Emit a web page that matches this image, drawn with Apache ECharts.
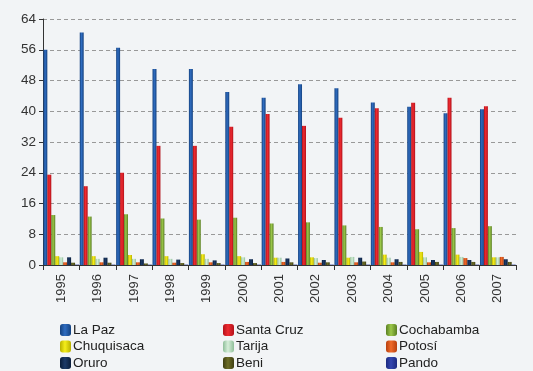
<!DOCTYPE html>
<html>
<head>
<meta charset="utf-8">
<script src="https://cdn.jsdelivr.net/npm/echarts@6/dist/echarts.min.js"></script>
<style>
html, body { margin: 0; padding: 0; background: #f2f4f6; }
#main { width: 533px; height: 371px; }
</style>
</head>
<body>
<div id="main"></div>
<script>
var years = ['1995', '1996', '1997', '1998', '1999', '2000', '2001', '2002', '2003', '2004', '2005', '2006', '2007'];
var laPaz = [56, 60.5, 56.5, 51, 51, 45, 43.5, 47, 46, 42.3, 41.2, 39.5, 40.5];
var santaCruz = [23.5, 20.5, 24, 31, 31, 36, 39.3, 36.2, 38.3, 40.8, 42.2, 43.5, 41.3];
var cochabamba = [13, 12.6, 13.2, 12.1, 11.8, 12.3, 10.8, 11.1, 10.3, 9.9, 9.3, 9.6, 10.1];
var chuquisaca = [2.3, 2.3, 2.6, 2.3, 2.8, 2.3, 1.9, 2.0, 1.9, 2.7, 3.4, 2.7, 2.0];
var tarija = [2.0, 1.6, 1.6, 1.6, 1.6, 2.0, 1.9, 1.8, 2.1, 1.9, 2.0, 2.1, 2.0];
var potosi = [0.7, 0.7, 0.7, 0.6, 0.7, 0.8, 0.8, 0.6, 0.7, 0.7, 0.7, 1.8, 2.1];
var oruro = [2.0, 1.9, 1.5, 1.4, 1.2, 1.5, 1.7, 1.3, 1.9, 1.5, 1.3, 1.3, 1.5];
var beni = [0.6, 0.6, 0.4, 0.5, 0.5, 0.5, 0.7, 0.7, 0.9, 0.8, 0.8, 0.8, 0.8];
var pando = [0.1, 0.1, 0.1, 0.1, 0.1, 0.1, 0.1, 0.1, 0.1, 0.1, 0.1, 0.1, 0.1];
var yTicks = [0, 8, 16, 24, 32, 40, 48, 56, 64];

// colores: [oscuro, claro]
var seriesDefs = [
    ['La Paz', laPaz, '#14417f', '#2f6cc0'],
    ['Santa Cruz', santaCruz, '#b3111a', '#ee2a30'],
    ['Cochabamba', cochabamba, '#5a7f22', '#9cc84a'],
    ['Chuquisaca', chuquisaca, '#b8b000', '#f5ee1a'],
    ['Tarija', tarija, '#8fbf9a', '#d6eed9'],
    ['Potosí', potosi, '#b8400f', '#f06a2a'],
    ['Oruro', oruro, '#0a1d3a', '#1c3a68'],
    ['Beni', beni, '#3e3e12', '#6e6e28'],
    ['Pando', pando, '#1c2a80', '#3446b0']
];

function grad(dark, light) {
    return new echarts.graphic.LinearGradient(0, 0, 1, 0, [
        {offset: 0, color: dark},
        {offset: 0.45, color: light},
        {offset: 1, color: dark}
    ]);
}

var series = [];
for (var i = 0; i < seriesDefs.length; i++) {
    var d = seriesDefs[i];
    series.push({
        name: d[0],
        type: 'bar',
        data: d[1],
        barGap: '0%',
        barCategoryGap: '2%',
        itemStyle: {color: grad(d[2], d[3])}
    });
}

function legendCol(x, names) {
    return {
        left: x,
        top: 323,
        height: 60,
        padding: 0,
        orient: 'vertical',
        itemWidth: 11,
        itemHeight: 12,
        itemGap: 2.5,
        data: names,
        textStyle: {fontFamily: 'Liberation Sans', fontSize: 13.5, color: '#222', padding: [0, 0, 0, -3]}
    };
}

var myChart = echarts.init(document.getElementById('main'));
var option = {
    backgroundColor: '#f2f4f6',
    animation: false,
    grid: {left: 43, right: 17, top: 19, bottom: 106},
    legend: [
        legendCol(60, ['La Paz', 'Chuquisaca', 'Oruro']),
        legendCol(223, ['Santa Cruz', 'Tarija', 'Beni']),
        legendCol(386, ['Cochabamba', 'Potosí', 'Pando'])
    ],
    xAxis: {
        type: 'category',
        data: years,
        axisLine: {lineStyle: {color: '#333', width: 1}},
        axisTick: {show: true, length: 5, lineStyle: {color: '#333'}},
        axisLabel: {rotate: 90, margin: 9, fontFamily: 'Liberation Sans', fontSize: 13, color: '#333'}
    },
    yAxis: {
        type: 'value',
        min: 0,
        max: 64,
        interval: 8,
        axisLine: {show: true, lineStyle: {color: '#333'}},
        axisTick: {show: true, length: 4, lineStyle: {color: '#333'}},
        axisLabel: {fontFamily: 'Liberation Sans', fontSize: 13.5, color: '#333', margin: 7,
            formatter: function (v) { return yTicks.indexOf(v) >= 0 ? String(v) : ''; }},
        splitLine: {lineStyle: {color: '#999', type: [4, 3], width: 1}}
    },
    series: series
};
myChart.setOption(option);
</script>
</body>
</html>
